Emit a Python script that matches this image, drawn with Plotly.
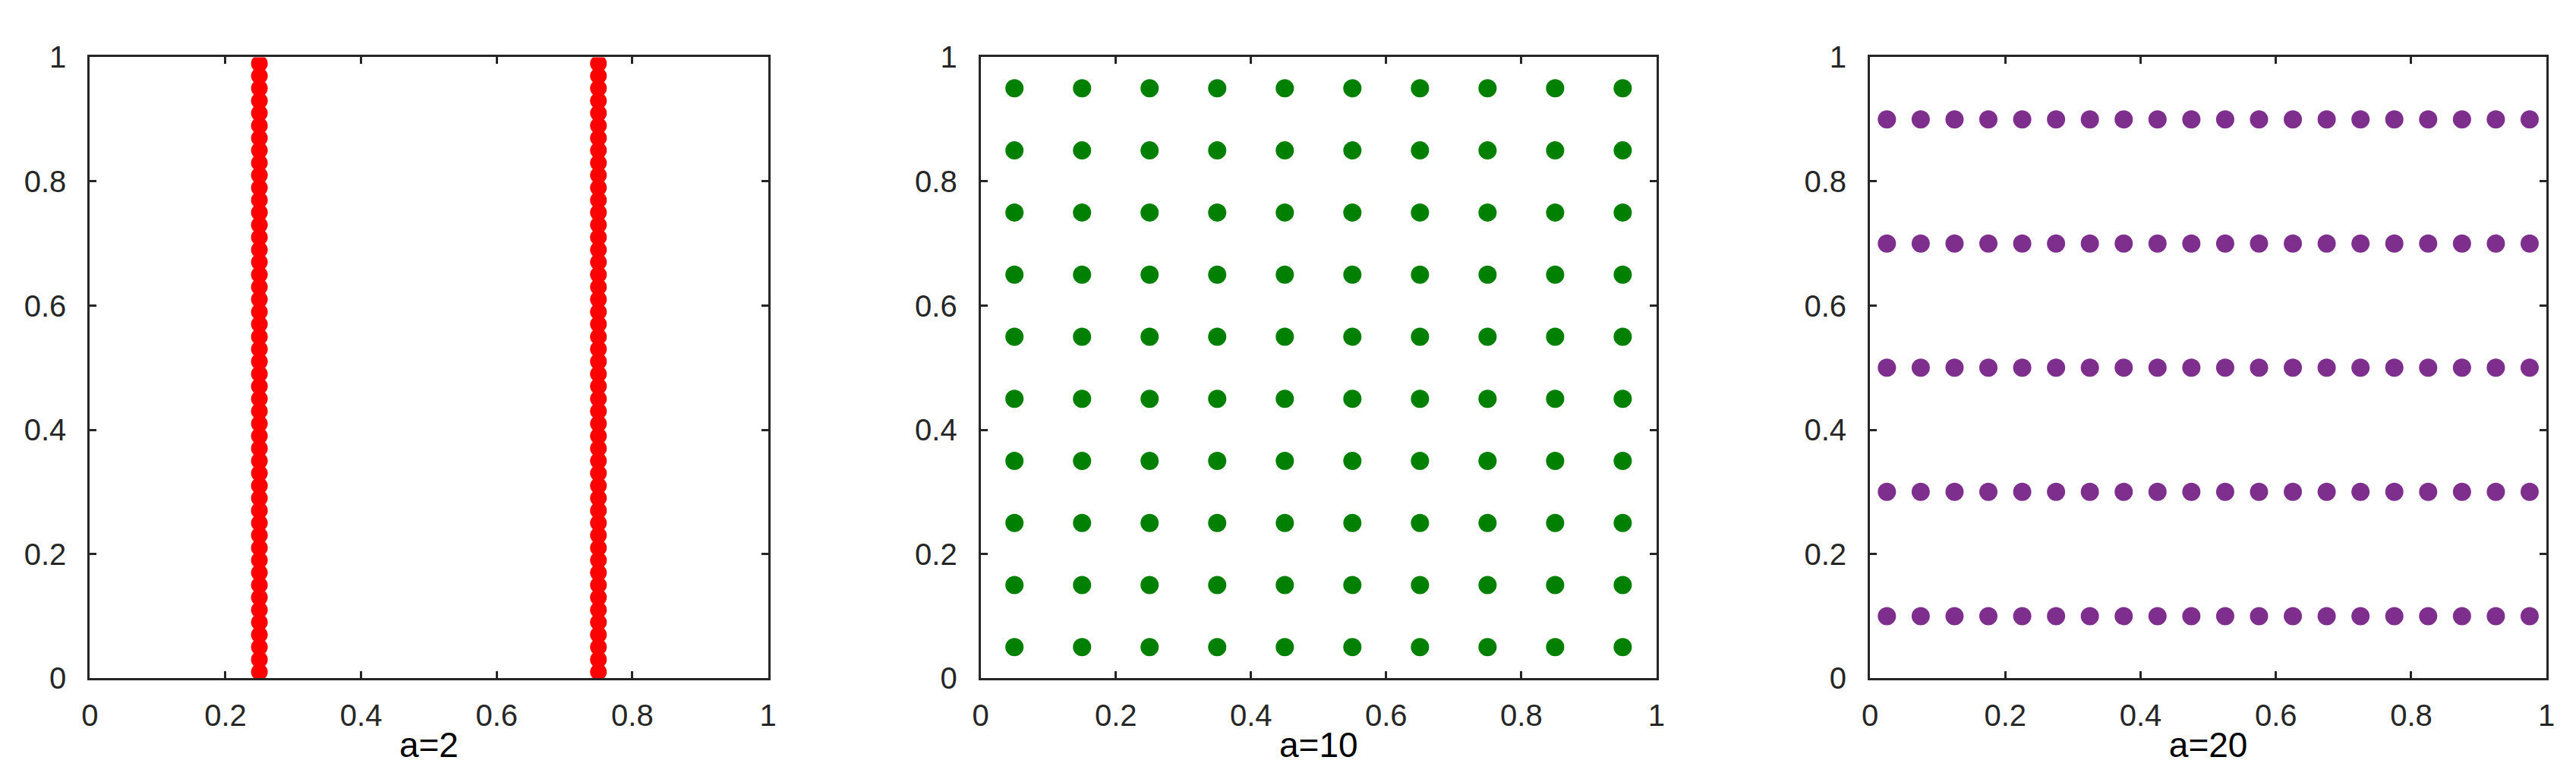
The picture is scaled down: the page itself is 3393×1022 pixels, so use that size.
import plotly.graph_objects as go

# ---- data ----
panel_titles = ["a=2", "a=10", "a=20"]
tick_vals = [0, 0.2, 0.4, 0.6, 0.8, 1]
tick_text = ["0", "0.2", "0.4", "0.6", "0.8", "1"]

a2_cols = [0.25, 0.75]
a2_rows = [0.01, 0.03, 0.05, 0.07, 0.09, 0.11, 0.13, 0.15, 0.17, 0.19,
           0.21, 0.23, 0.25, 0.27, 0.29, 0.31, 0.33, 0.35, 0.37, 0.39,
           0.41, 0.43, 0.45, 0.47, 0.49, 0.51, 0.53, 0.55, 0.57, 0.59,
           0.61, 0.63, 0.65, 0.67, 0.69, 0.71, 0.73, 0.75, 0.77, 0.79,
           0.81, 0.83, 0.85, 0.87, 0.89, 0.91, 0.93, 0.95, 0.97, 0.99]

a10_cols = [0.05, 0.15, 0.25, 0.35, 0.45, 0.55, 0.65, 0.75, 0.85, 0.95]
a10_rows = [0.05, 0.15, 0.25, 0.35, 0.45, 0.55, 0.65, 0.75, 0.85, 0.95]

a20_cols = [0.025, 0.075, 0.125, 0.175, 0.225, 0.275, 0.325, 0.375, 0.425, 0.475,
            0.525, 0.575, 0.625, 0.675, 0.725, 0.775, 0.825, 0.875, 0.925, 0.975]
a20_rows = [0.1, 0.3, 0.5, 0.7, 0.9]

colors = ["#FF0000", "#008000", "#7E2F8E"]
sizes = [22, 24, 24]


def grid(cols, rows):
    xs, ys = [], []
    for cx in cols:
        for ry in rows:
            xs.append(cx)
            ys.append(ry)
    return xs, ys


datasets = [grid(a2_cols, a2_rows), grid(a10_cols, a10_rows), grid(a20_cols, a20_rows)]

W, H = 3393, 1022
x_domains = [(100, 999), (1281, 2177), (2460, 3357)]
y_top, y_bot = 47.5, 902

fig = go.Figure()
axis_color = "#262626"
font_family = "Liberation Sans, Arial, Helvetica, sans-serif"

for i, (xs, ys) in enumerate(datasets):
    suffix = "" if i == 0 else str(i + 1)
    fig.add_trace(go.Scatter(
        x=xs, y=ys, mode="markers",
        marker=dict(color=colors[i], size=sizes[i], line=dict(width=0)),
        xaxis="x" + suffix, yaxis="y" + suffix, showlegend=False,
        hoverinfo="x+y",
    ))
    common = dict(
        range=[0, 1], showgrid=False, zeroline=False,
        showline=True, linecolor=axis_color, linewidth=3, mirror="ticks",
        ticks="inside", ticklen=9, tickwidth=3, tickcolor=axis_color,
        tickvals=tick_vals, ticktext=tick_text,
        tickfont=dict(family=font_family, size=40, color=axis_color),
        fixedrange=True,
    )
    xd = [x_domains[i][0] / W, x_domains[i][1] / W]
    yd = [1 - y_bot / H, 1 - y_top / H]
    fig.update_layout(**{
        "xaxis" + suffix: dict(
            common, domain=xd, anchor="y" + suffix,
            ticklabelstandoff=12,
            title=dict(text=panel_titles[i], standoff=2,
                       font=dict(family=font_family, size=46, color="#000000")),
        ),
        "yaxis" + suffix: dict(
            common, domain=yd, anchor="x" + suffix,
            ticklabelstandoff=20,
        ),
    })

fig.update_layout(
    width=W, height=H,
    margin=dict(l=0, r=0, t=0, b=0, pad=0),
    paper_bgcolor="white", plot_bgcolor="white",
    autosize=False,
)

fig.write_html("out.html")
